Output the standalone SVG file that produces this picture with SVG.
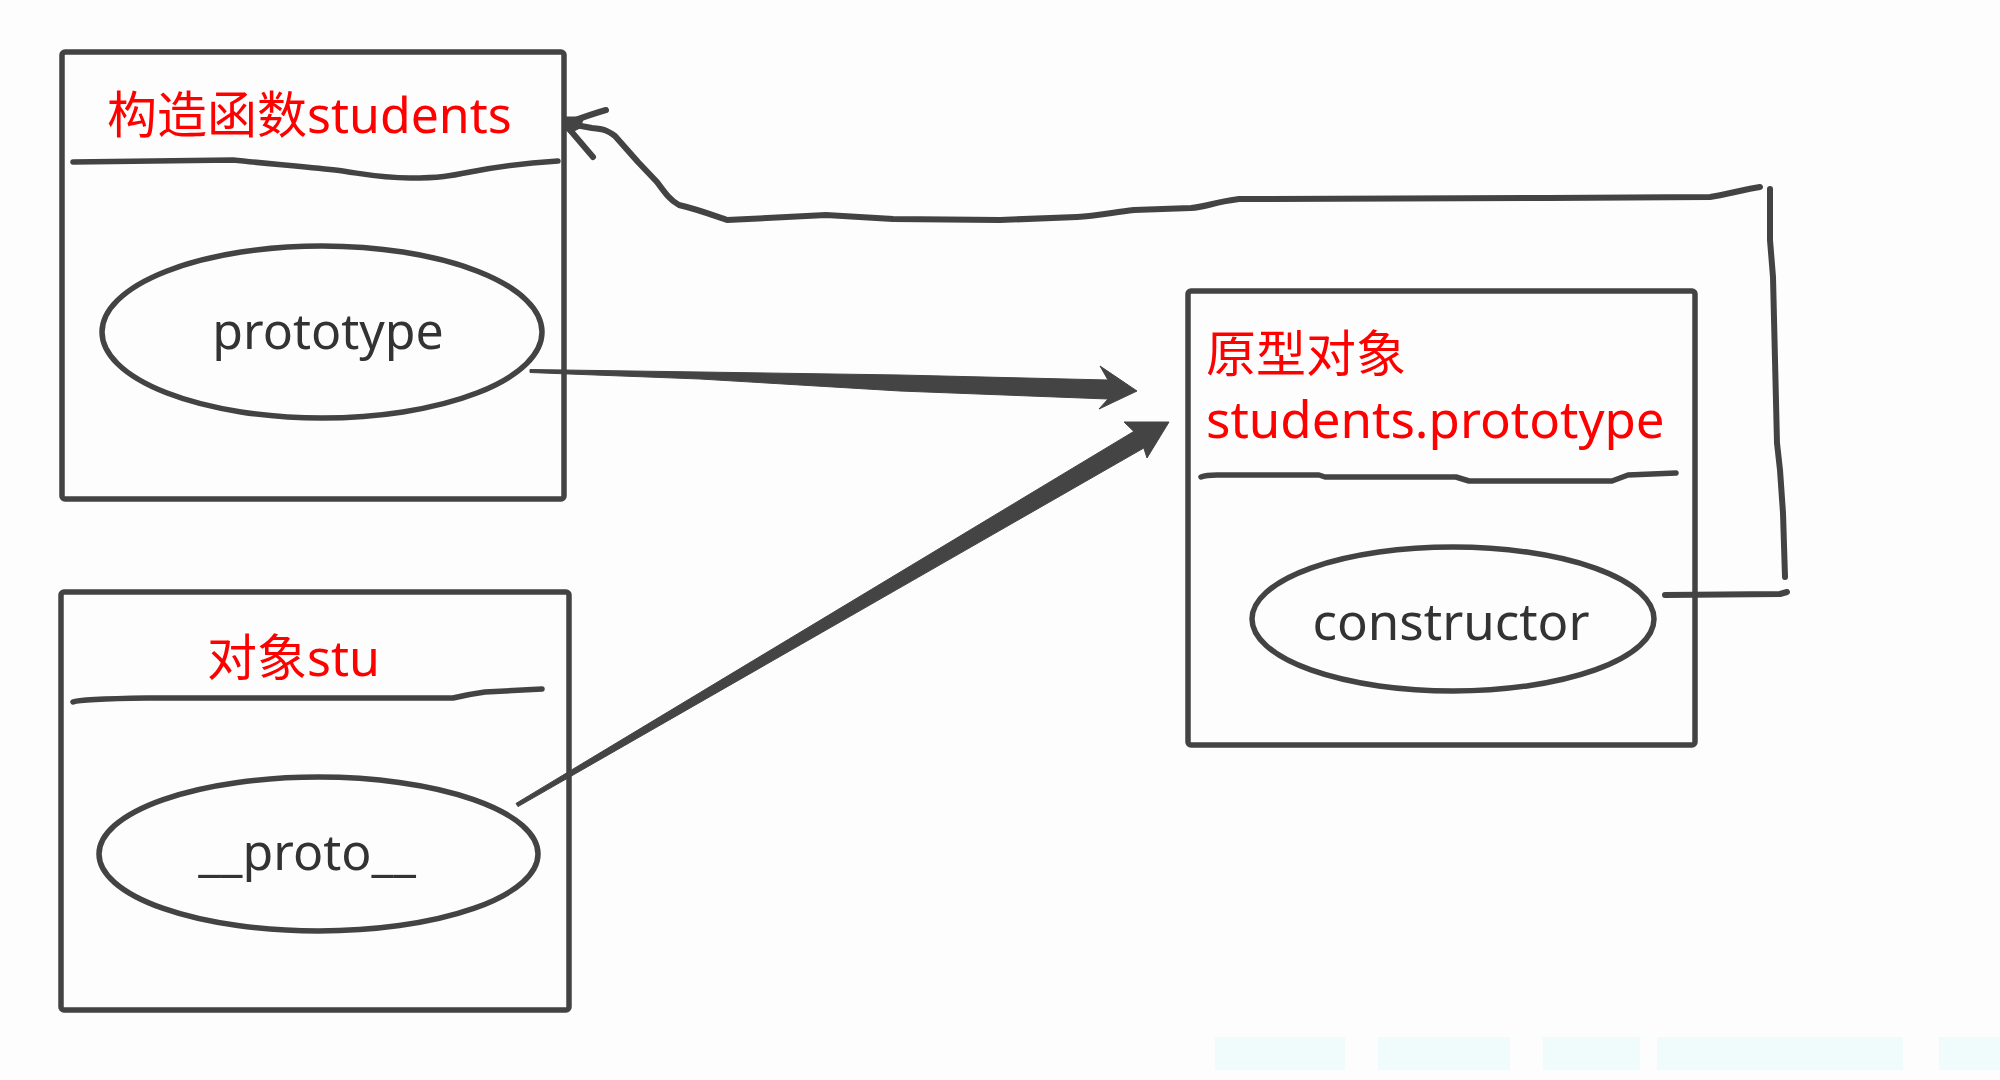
<svg xmlns="http://www.w3.org/2000/svg" width="2000" height="1080" viewBox="0 0 2000 1080">
<style>
.box{fill:none;stroke:#434343;stroke-width:5.5;stroke-linejoin:round}
.sep{fill:none;stroke:#434343;stroke-width:5.5;stroke-linecap:round;stroke-linejoin:round}
.oval{fill:none;stroke:#434343;stroke-width:5.5}
.title{font-family:"Noto Sans","Noto Sans CJK SC",sans-serif;font-size:50px;fill:#ff0000}
.label{font-family:"Noto Sans","Noto Sans CJK SC",sans-serif;font-size:50px;fill:#333333}
.wire{fill:none;stroke:#434343;stroke-width:6;stroke-linecap:round;stroke-linejoin:round}
.thick{fill:#444444;stroke:#444444;stroke-width:1;stroke-linejoin:round}
.ghost{fill:#f0fbfc}
</style>
<rect x="0" y="0" width="2000" height="1080" fill="#fdfdfd"/>
<g id="bg-artifacts">
<rect class="ghost" x="1215" y="1037" width="130" height="33"/>
<rect class="ghost" x="1378" y="1037" width="132" height="33"/>
<rect class="ghost" x="1543" y="1037" width="97" height="33"/>
<rect class="ghost" x="1657" y="1037" width="246" height="33"/>
<rect class="ghost" x="1939" y="1037" width="61" height="33"/>
</g>
<g id="node-constructor-students">
<rect class="box" x="62" y="52" width="502" height="447" rx="3"/>
<text class="title" x="107" y="133">构造函数students</text>
<path class="sep" d="M73,162 L233,160 C270,164 300,166 335,170 C365,174 380,178 410,178 C440,178 450,176 470,172 C500,166 525,163 558,161"/>
<ellipse class="oval" cx="322" cy="332" rx="220" ry="86"/>
<text class="label" x="328" y="349" text-anchor="middle">prototype</text>
</g>
<g id="node-stu">
<rect class="box" x="61" y="592" width="508" height="418" rx="3"/>
<text class="title" x="207" y="676">对象stu</text>
<path class="sep" d="M73,702 Q80,699 147,698 L453,698 Q470,694 485,692 L542,689"/>
<ellipse class="oval" cx="318.5" cy="854" rx="219.5" ry="77"/>
<text class="label" x="307" y="870" text-anchor="middle">__proto__</text>
</g>
<g id="node-prototype-object">
<rect class="box" x="1188" y="291" width="507" height="454" rx="3"/>
<text class="title" x="1206" y="372">原型对象</text>
<text class="title" x="1206" y="438" style="font-size:51px">students.prototype</text>
<path class="sep" d="M1201,477 Q1206,475 1217,475 L1319,475 L1325,477 L1456,477 L1469,481 L1612,481 L1628,475 L1676,473"/>
<ellipse class="oval" cx="1453" cy="619" rx="201" ry="72"/>
<text class="label" x="1451" y="640" text-anchor="middle" style="font-size:51px">constructor</text>
</g>
<g id="connectors">
<polygon id="prototype-to-object" class="thick" points="530,369.5 700,372 900,375 1108,380 1100,366 1137,391 1099,409 1108,399 900,391 700,379 530,372.5"/>
<polygon id="proto-to-object" class="thick" points="516,803.4 1133.8,431.4 1124,422 1169,422 1147,458 1143.8,448 518,806.6"/>
<g id="constructor-to-function">
<path class="wire" d="M1665,595 L1780,594 L1787,592"/>
<path class="wire" d="M1770,189 L1770,240 L1773,277 L1777,443 L1780,470 L1783,513 L1785,577"/>
<path class="wire" d="M1760,187 C1745,189 1725,195 1710,197 L1548,198 L1239,199 C1215,202 1205,207 1191,208 L1134,210 C1110,213 1095,216 1077,217 L1000,220 L893,219 L826,215 L727,220 C715,216 700,210 679,205 C670,200 665,193 657,182 L638,162 L615,136 C608,131 605,129 592,128 L570,124"/>
<path class="wire" d="M606,110 Q592,114 570,122"/>
<path class="wire" d="M570,130 L593,157"/>
<polygon class="thick" points="566,117 584,117 580,128 570,133 566,130"/>
</g>
</g>
</svg>
